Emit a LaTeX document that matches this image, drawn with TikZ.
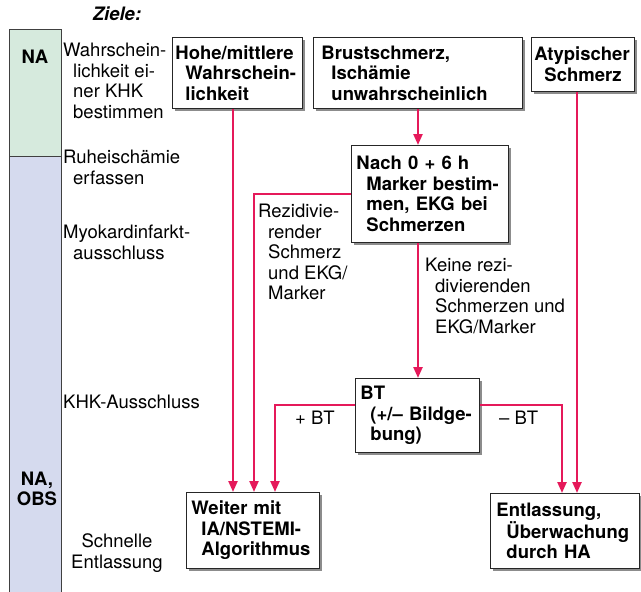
\documentclass[tikz,border=0pt]{standalone}
\usepackage{fontspec}
\setmainfont{TeX Gyre Heros}
\usepackage{xcolor}
\usetikzlibrary{arrows.meta,shadows}

\definecolor{nagruen}{HTML}{D6EADD}
\definecolor{obsblau}{HTML}{D5DAEE}
\definecolor{pfeilrot}{HTML}{E5195A}
\newcommand{\einr}{\hspace*{10pt}}
\newcommand{\grund}{\fontsize{18.5}{20.5}\selectfont}

\tikzset{
  kasten/.style={draw=black!85, line width=0.9pt, fill=white, anchor=north west,
    align=left, inner xsep=8pt, inner ysep=0pt, font=\grund\bfseries,
    drop shadow={shadow xshift=3pt, shadow yshift=-3pt, fill=black!45, opacity=1}},
  ziel/.style={anchor=north west, inner sep=0pt, align=left},
  pfeil/.style={draw=pfeilrot, line width=2.3pt, -{Triangle[width=9pt,length=11pt]}},
}

\begin{document}
\begin{tikzpicture}[x=1pt, y=-1pt, font=\grund]
\useasboundingbox (0,0) rectangle (641,592);

% Spalte links
\fill[nagruen] (9,29) rectangle (61,156);
\fill[obsblau] (9,156) rectangle (61,600);
\draw[black!75, line width=0.9pt] (9,600) -- (9,29) -- (61,29) -- (61,600);
\draw[black!75, line width=0.9pt] (9,156) -- (61,156);
\node[font=\grund\bfseries] (na) at (35,57) {NA};
\node[font=\grund\bfseries, align=center] (naobs) at (37,489) {NA,\\OBS};

% Ziele
\node[font=\grund\bfseries\itshape] (ziele) at (117,14) {Ziele:};
\node[ziel] (z1) at (63,43) {Wahrschein-\\\einr lichkeit ei-\\\einr ner KHK\\\einr bestimmen};
\node[ziel] (z2) at (63,150) {Ruheischämie\\\einr erfassen};
\node[ziel] (z3) at (63,225) {Myokardinfarkt-\\\einr ausschluss};
\node[ziel] (z4) at (63,395) {KHK-Ausschluss};
\node[align=center, inner sep=0pt] (z5) at (117,553) {Schnelle\\Entlassung};

% Kaesten
\node[kasten, inner xsep=3pt, minimum width=130, minimum height=71, text width=124] (hoch) at (172,37) {Hohe/mittlere\\\einr Wahrschein-\\\einr lichkeit};
\node[kasten, minimum width=209, minimum height=71, text width=193] (brust) at (313,37) {Brustschmerz,\\\einr Ischämie\\\einr unwahrscheinlich};
\node[kasten, inner xsep=3pt, minimum width=103, minimum height=54, text width=97] (atyp) at (531,37) {Atypischer\\\einr Schmerz};
\node[kasten, inner xsep=5pt, minimum width=157, minimum height=97, text width=147] (marker) at (351,145) {Nach 0 + 6 h\\\einr Marker bestim-\\\einr men, EKG bei\\\einr Schmerzen};
\node[kasten, inner xsep=5pt, minimum width=124, minimum height=74, text width=114] (bt) at (355,378) {BT\\\einr (+/-- Bildge-\\\einr bung)};
\node[kasten, inner xsep=5pt, minimum width=133, minimum height=76, text width=123] (nstemi) at (186,492) {Weiter mit\\\einr IA/NSTEMI-\\\einr Algorithmus};
\node[kasten, inner xsep=6pt, minimum width=149, minimum height=75, text width=137] (entl) at (490,493) {Entlassung,\\\einr Überwachung\\\einr durch HA};

% Pfeile
\draw[pfeil] (hoch.south -| 233,0) -- (nstemi.north -| 233,0);
\draw[pfeil] (marker.west |- 0,194) -| (nstemi.north -| 254,0);
\draw[pfeil] (bt.west |- 0,405) -| (nstemi.north -| 275,0);
\draw[pfeil] (brust.south -| 418,0) -- (marker.north -| 418,0);
\draw[pfeil] (marker.south -| 418,0) -- (bt.north -| 418,0);
\draw[pfeil] (bt.east |- 0,405) -| (entl.north -| 562,0);
\draw[pfeil] (atyp.south -| 577,0) -- (entl.north -| 577,0);

% Beschriftungen
\node[ziel] (rezid) at (258,204) {Rezidivie-\\\einr render\\\einr Schmerz\\\einr und EKG/\\\einr Marker};
\node[ziel] (keine) at (425,258) {Keine rezi-\\\einr divierenden\\\einr Schmerzen und\\\einr EKG/Marker};
\node[ziel] (plusbt) at (295,411) {+ BT};
\node[ziel] (minusbt) at (499,411) {-- BT};
\end{tikzpicture}
\end{document}
